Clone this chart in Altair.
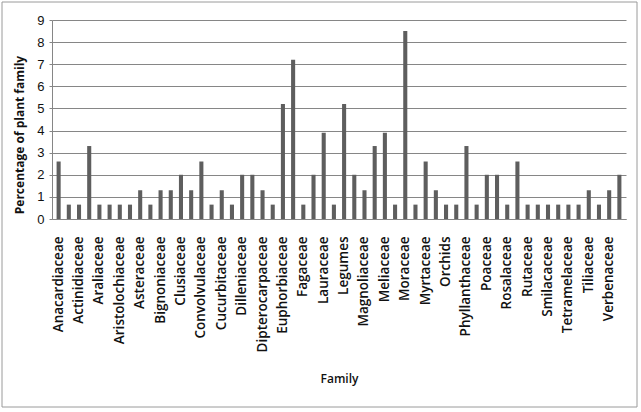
import altair as alt
import pandas as pd

# Labels shown on the axis (every other category is labelled)
shown_labels = [
    "Anacardiaceae", "Actinidiaceae", "Araliaceae", "Aristolochiaceae",
    "Asteraceae", "Bignoniaceae", "Clusiaceae", "Convolvulaceae",
    "Cucurbitaceae", "Dilleniaceae", "Dipterocarpaceae", "Euphorbiaceae",
    "Fagaceae", "Lauraceae", "Legumes", "Magnoliaceae", "Meliaceae",
    "Moraceae", "Myrtaceae", "Orchids", "Phyllanthaceae", "Poaceae",
    "Rosalaceae", "Rutaceae", "Smilacaceae", "Tetramelaceae", "Tiliaceae",
    "Verbenaceae",
]

# Percentage of plant family, one value per bar (56 bars)
values = [
    2.6, 0.65, 0.65, 3.3, 0.65, 0.65, 0.65, 0.65, 1.3, 0.65,
    1.3, 1.3, 2.0, 1.3, 2.6, 0.65, 1.3, 0.65, 2.0, 2.0,
    1.3, 0.65, 5.2, 7.2, 0.65, 2.0, 3.9, 0.65, 5.2, 2.0,
    1.3, 3.3, 3.9, 0.65, 8.5, 0.65, 2.6, 1.3, 0.65, 0.65,
    3.3, 0.65, 2.0, 2.0, 0.65, 2.6, 0.65, 0.65, 0.65, 0.65,
    0.65, 0.65, 1.3, 0.65, 1.3, 2.0,
]

slot_labels = [shown_labels[i // 2] if i % 2 == 0 else "" for i in range(len(values))]
df = pd.DataFrame({
    "slot": [f"{i:02d}" for i in range(len(values))],
    "pct": values,
})

label_array = "[" + ",".join(f"'{s}'" for s in slot_labels) + "]"

W, H = 574, 199

bars = alt.Chart(df).mark_bar(color="#5e5e5e").encode(
    x=alt.X(
        "slot:N",
        sort=None,
        scale=alt.Scale(paddingInner=0.6, paddingOuter=0.45),
        axis=alt.Axis(
            title="Family",
            labelExpr=f"{label_array}[toNumber(datum.value)]",
            labelAngle=-90,
            labelAlign="right",
            labelBaseline="middle",
            labelPadding=17,
            labelFont="Open Sans",
            labelFontSize=13.5,
            labelFontWeight=600,
            labelColor="#111111",
            labelOverlap=False,
            ticks=False,
            domainColor="#868686",
            titleFont="Open Sans",
            titleFontSize=12,
            titleFontWeight=600,
            titleColor="#111111",
            titleY=154,
        ),
    ),
    y=alt.Y(
        "pct:Q",
        scale=alt.Scale(domain=[0, 9]),
        axis=alt.Axis(
            title="Percentage of plant family",
            values=list(range(10)),
            tickCount=10,
            grid=True,
            gridColor="#868686",
            domainColor="#868686",
            tickColor="#868686",
            tickSize=3,
            labelFont="Liberation Sans Narrow, Liberation Sans",
            labelFontSize=13,
            labelColor="#111111",
            labelPadding=5,
            titleFont="Open Sans",
            titleFontSize=12,
            titleFontWeight="bold",
            titleColor="#111111",
            titleX=-33,
            titleY=H / 2 + 15,
            titleBaseline="middle",
        ),
    ),
)

frame = alt.Chart(pd.DataFrame({"k": [0]})).mark_rect(
    fill=None, stroke="#9a9a9a", strokeWidth=1
).encode(
    x=alt.value(-50), x2=alt.value(585), y=alt.value(-18), y2=alt.value(387)
)

chart = alt.layer(frame, bars).properties(
    width=W, height=H,
    autosize=alt.AutoSizeParams(type="none"),
    padding={"left": 52, "top": 20, "right": 15, "bottom": 193},
    background="white",
).configure_view(stroke=None)

chart.save("out.html", embed_options={"renderer": "svg", "actions": False})
